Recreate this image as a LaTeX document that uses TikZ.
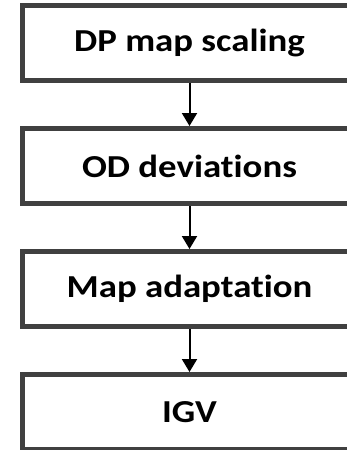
\documentclass[tikz,border=0pt]{standalone}
\usepackage{fontspec}
\setmainfont{Carlito}[FakeStretch=1.15, Ligatures=CommonOff]
\usetikzlibrary{arrows.meta}
\definecolor{boxgray}{HTML}{404040}
\tikzset{
  stagebox/.style={draw=boxgray, line width=5pt, rectangle, fill=white,
    minimum width=334pt, minimum height=75pt, inner sep=0pt,
    font=\fontsize{32}{36}\selectfont\bfseries, text=black},
  flowarrow/.style={draw=black, line width=2pt, -{Triangle[width=15pt,length=13pt]}}
}
\begin{document}
\begin{tikzpicture}[x=1pt,y=1pt]
\useasboundingbox (0,0) rectangle (347,-450);
\node[stagebox] (a) at (189.5,-43) {DP map scaling};
\node[stagebox] (b) at (189.5,-166) {OD deviations};
\node[stagebox] (c) at (189.5,-289) {Map adaptation};
\node[stagebox] (d) at (189.5,-412) {IGV};
\draw[flowarrow] (a.south) -- (b.north);
\draw[flowarrow] (b.south) -- (c.north);
\draw[flowarrow] (c.south) -- (d.north);
\end{tikzpicture}
\end{document}
